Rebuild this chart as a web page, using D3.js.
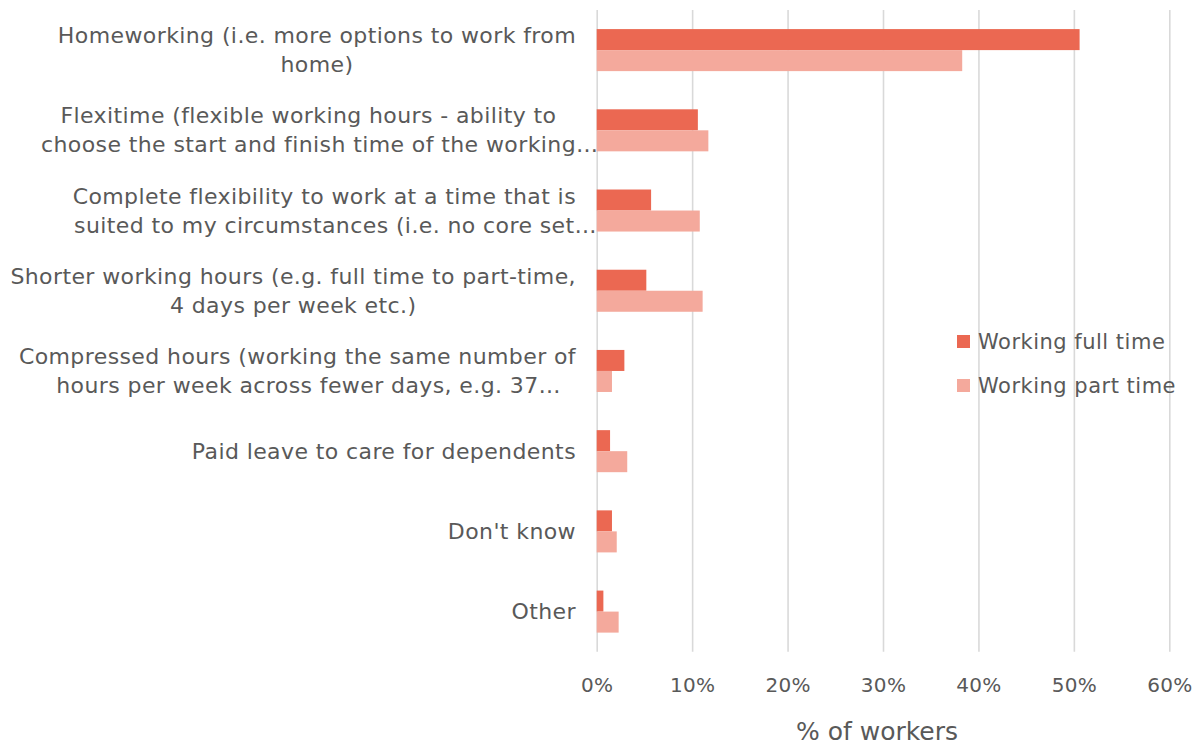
<!DOCTYPE html>
<html>
<head>
<meta charset="utf-8">
<script src="https://cdn.jsdelivr.net/npm/d3@7"></script>
<style>
  html, body { margin: 0; padding: 0; background: #ffffff; }
  svg { display: block; font-family: "DejaVu Sans", sans-serif; }
</style>
</head>
<body>
<svg id="chart" width="1200" height="745"></svg>
<script>
// Flexible working options wanted, by working pattern (% of workers)
const categories = [
  "Homeworking (i.e. more options to work from\nhome)",
  "Flexitime (flexible working hours - ability to\nchoose the start and finish time of the working…",
  "Complete flexibility to work at a time that is\nsuited to my circumstances (i.e. no core set…",
  "Shorter working hours (e.g. full time to part-time,\n4 days per week etc.)",
  "Compressed hours (working the same number of\nhours per week across fewer days, e.g. 37…",
  "Paid leave to care for dependents",
  "Don't know",
  "Other"
];
const seriesNames = ["Working full time", "Working part time"];
const fullTime = [50.6, 10.6, 5.7, 5.2, 2.9, 1.4, 1.6, 0.7];
const partTime = [38.3, 11.7, 10.8, 11.1, 1.6, 3.2, 2.1, 2.3];
const xTicks = [0, 10, 20, 30, 40, 50, 60];
const axisTitle = "% of workers";

const colors = ["#EB6852", "#F4A99C"];
const textColor = "#595959";
const gridColor = "#D9D9D9";

const svg = d3.select("#chart");
const plot = { left: 596.7, right: 1169.3, top: 10, bottom: 651.7 };

const x = d3.scaleLinear().domain([0, 60]).range([plot.left, plot.right]);
const y = d3.scaleBand()
  .domain(d3.range(categories.length))
  .range([plot.top, plot.bottom])
  .paddingInner(0.476)
  .paddingOuter(0.238);
const ySub = d3.scaleBand().domain([0, 1]).range([0, y.bandwidth()]);

// Gridlines and tick labels
const axis = svg.append("g")
  .attr("transform", `translate(0,${plot.bottom})`)
  .call(d3.axisBottom(x)
    .tickValues(xTicks)
    .tickFormat(d => d + "%")
    .tickSize(-(plot.bottom - plot.top))
    .tickPadding(26));
axis.select(".domain").remove();
axis.selectAll(".tick line")
  .attr("stroke", gridColor)
  .attr("stroke-width", 1.6);
axis.selectAll(".tick text")
  .attr("fill", textColor)
  .style("font-size", "20px")
  .style("letter-spacing", "0.3px")
  .style("font-family", "DejaVu Sans, sans-serif");

// Bars
const rows = categories.map((c, i) => ({ i, values: [fullTime[i], partTime[i]] }));
const groups = svg.append("g").selectAll("g")
  .data(rows)
  .join("g")
  .attr("transform", d => `translate(0,${y(d.i)})`);
groups.selectAll("rect")
  .data(d => d.values.map((v, s) => ({ v, s })))
  .join("rect")
  .attr("x", x(0))
  .attr("y", d => ySub(d.s))
  .attr("width", d => x(d.v) - x(0))
  .attr("height", ySub.bandwidth())
  .attr("fill", d => colors[d.s]);

// Category labels: lines centred on each other, block right-aligned to the axis;
// a trailing ellipsis hangs past the centred text.
const labelRight = 576;
const lineGap = 29;
const labelSize = 22;
const labelG = svg.append("g")
  .attr("fill", textColor)
  .style("font-size", labelSize + "px")
  .style("letter-spacing", "0.4px");
categories.forEach((label, i) => {
  const lines = label.split("\n");
  const cy = y(i) + y.bandwidth() / 2;
  const nodes = lines.map((ln, k) => {
    const t = labelG.append("text")
      .attr("y", cy + (k - (lines.length - 1) / 2) * lineGap + 7.5)
      .text(ln.replace(/…$/, ""));
    return { t, ln, w: t.node().getComputedTextLength() };
  });
  const maxW = d3.max(nodes, n => n.w);
  const centre = labelRight - maxW / 2;
  nodes.forEach(n => {
    n.t.attr("x", centre - n.w / 2).text(n.ln);
  });
});

// Axis title
svg.append("text")
  .attr("x", (plot.left + plot.right) / 2 - 6)
  .attr("y", 740)
  .attr("text-anchor", "middle")
  .attr("fill", textColor)
  .style("font-size", "25px")
  .text(axisTitle);

// Legend
const legend = svg.append("g").attr("transform", "translate(957,335)");
seriesNames.forEach((name, s) => {
  const g = legend.append("g").attr("transform", `translate(0,${s * 44})`);
  g.append("rect").attr("width", 13).attr("height", 13).attr("fill", colors[s]);
  g.append("text")
    .attr("x", 21)
    .attr("y", 14)
    .attr("fill", textColor)
    .style("font-size", "21px")
    .style("letter-spacing", "0.5px")
    .text(name);
});
</script>
</body>
</html>
